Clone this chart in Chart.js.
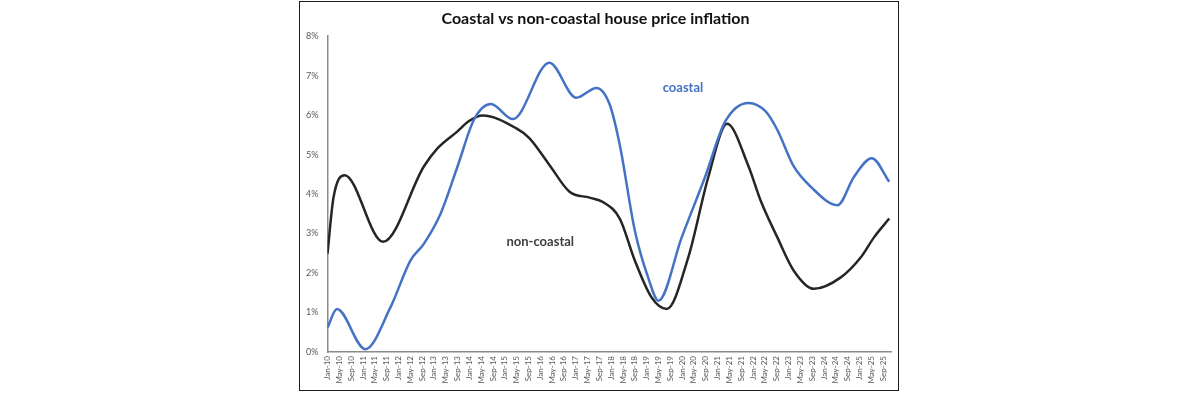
<!DOCTYPE html>
<html>
<head>
<meta charset="utf-8">
<script src="https://cdn.jsdelivr.net/npm/chart.js@4.4.1/dist/chart.umd.min.js"></script>
<style>
  html, body { margin: 0; padding: 0; background: #ffffff; width: 1200px; height: 393px; overflow: hidden; }
  #box { position: absolute; left: 299px; top: 1px; width: 600px; height: 390px; box-sizing: border-box; border: 1.5px solid #1a1a1a; background: #fff; }
  #wrap { position: absolute; left: 0; top: 0; right: 0; bottom: 0; }
</style>
</head>
<body>
<div id="box"><div id="wrap"><canvas id="c"></canvas></div></div>
<script>
// ---- data (months counted from Jan-10 = 0) ----
const titleText = 'Coastal vs non-coastal house price inflation';

const tickLabels = [
  'Jan-10','May-10','Sep-10','Jan-11','May-11','Sep-11','Jan-12','May-12','Sep-12',
  'Jan-13','May-13','Sep-13','Jan-14','May-14','Sep-14','Jan-15','May-15','Sep-15',
  'Jan-16','May-16','Sep-16','Jan-17','May-17','Sep-17','Jan-18','May-18','Sep-18',
  'Jan-19','May-19','Sep-19','Jan-20','May-20','Sep-20','Jan-21','May-21','Sep-21',
  'Jan-22','May-22','Sep-22','Jan-23','May-23','Sep-23','Jan-24','May-24','Sep-24',
  'Jan-25','May-25','Sep-25'
];

const coastalMonths = [0, 3.2, 12.8, 21.3, 28.1, 32.6, 38.3, 44, 49.6, 55.3, 62.7, 75.1, 84.2, 91, 95.5, 98.9, 104, 108.5, 112, 119.9, 127.8, 134.6, 142.5, 148.2, 152.2, 157.8, 163.5, 172.6, 178.2, 184.2, 190.1];
const coastalValues = [0.62, 1.09, 0.07, 1.13, 2.32, 2.74, 3.51, 4.70, 5.89, 6.28, 5.90, 7.33, 6.44, 6.69, 6.27, 5.25, 3.08, 1.89, 1.30, 2.91, 4.44, 5.84, 6.31, 6.10, 5.63, 4.70, 4.19, 3.72, 4.44, 4.91, 4.31];

const nonCoastalMonths = [0, 2, 5.8, 18.8, 32.6, 37.2, 44, 47.9, 52.5, 63.8, 68.3, 75.1, 81.9, 88.7, 93.2, 98.9, 104, 109.7, 114.8, 122.1, 128.9, 135.2, 142.5, 146.5, 152.2, 157.8, 164.6, 173.7, 180.5, 185, 190.1];
const nonCoastalValues = [2.49, 3.9, 4.48, 2.79, 4.70, 5.16, 5.59, 5.85, 5.99, 5.67, 5.42, 4.74, 4.06, 3.91, 3.80, 3.38, 2.32, 1.38, 1.09, 2.40, 4.44, 5.78, 4.70, 3.85, 2.91, 2.06, 1.60, 1.89, 2.40, 2.91, 3.38];

const annotationTexts = ['coastal', 'non-coastal'];
const annotationMonths = [120.3, 72];
const annotationValues = [6.70, 2.78];
const annotationColors = ['#4472C4', '#404040'];

const toPoints = (xs, ys) => xs.map((x, i) => ({ x: x, y: ys[i] }));

const annotationPlugin = {
  id: 'textLabels',
  afterDatasetsDraw(chart) {
    const ctx = chart.ctx;
    const xs = chart.scales.x, ys = chart.scales.y;
    ctx.save();
    ctx.font = 'bold 13px Lato, "DejaVu Sans", sans-serif';
    ctx.textAlign = 'center';
    ctx.textBaseline = 'middle';
    annotationTexts.forEach((t, i) => {
      ctx.fillStyle = annotationColors[i];
      ctx.fillText(t, xs.getPixelForValue(annotationMonths[i]), ys.getPixelForValue(annotationValues[i]));
    });
    ctx.restore();
  }
};

new Chart(document.getElementById('c'), {
  type: 'line',
  data: {
    datasets: [
      { label: 'coastal', data: toPoints(coastalMonths, coastalValues), borderColor: '#4472C4', borderWidth: 2.5, pointRadius: 0, cubicInterpolationMode: 'monotone', fill: false },
      { label: 'non-coastal', data: toPoints(nonCoastalMonths, nonCoastalValues), borderColor: '#262626', borderWidth: 2.5, pointRadius: 0, cubicInterpolationMode: 'monotone', fill: false }
    ]
  },
  options: {
    responsive: true,
    maintainAspectRatio: false,
    animation: false,
    layout: { padding: { left: 0, right: 7, top: 0, bottom: 0 } },
    plugins: {
      legend: { display: false },
      tooltip: { enabled: false },
      title: {
        display: true,
        text: titleText,
        color: '#111',
        font: { family: 'Lato, "DejaVu Sans", sans-serif', size: 16, weight: 'bold' },
        padding: { top: 7, bottom: 8 }
      }
    },
    scales: {
      x: {
        type: 'linear',
        min: 0,
        max: 190.7,
        grid: { display: false, drawTicks: false },
        border: { display: true, color: '#8c8c8c', width: 1.5 },
        ticks: {
          stepSize: 4,
          includeBounds: false,
          autoSkip: false,
          maxRotation: 90,
          minRotation: 90,
          padding: 4,
          color: '#595959',
          font: { family: 'Lato, "DejaVu Sans", sans-serif', size: 8 },
          callback: (v) => (v % 4 === 0 ? tickLabels[v / 4] : '')
        },
        afterFit: (s) => { s.height = 38; }
      },
      y: {
        min: 0,
        max: 8,
        grid: { display: false, drawTicks: false },
        border: { display: true, color: '#8c8c8c', width: 1.5 },
        ticks: {
          stepSize: 1,
          padding: 9,
          color: '#595959',
          font: { family: 'Lato, "DejaVu Sans", sans-serif', size: 9 },
          callback: (v) => v + '%'
        },
        afterFit: (s) => { s.width = 27.5; }
      }
    }
  },
  plugins: [annotationPlugin]
});
</script>
</body>
</html>
